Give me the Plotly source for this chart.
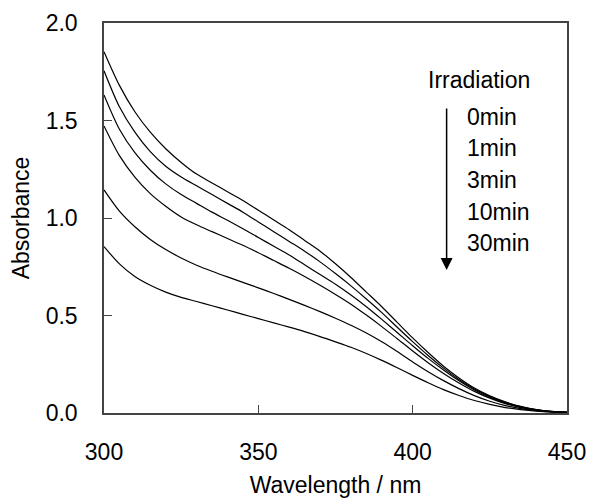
import plotly.graph_objects as go

wavelength = [300, 305, 310, 315, 320, 325, 330, 335, 340, 345, 350, 355, 360, 365, 370,
              375, 380, 385, 390, 395, 400, 405, 410, 415, 420, 425, 430, 435, 440, 445, 450]

abs_0 = [1.853, 1.68, 1.545, 1.44, 1.355, 1.285, 1.225, 1.18, 1.135, 1.09, 1.04, 0.99, 0.94, 0.885, 0.83,
         0.765, 0.695, 0.62, 0.545, 0.465, 0.385, 0.31, 0.24, 0.18, 0.128, 0.088, 0.057, 0.034, 0.018, 0.008, 0.004]
abs_1 = [1.755, 1.57, 1.44, 1.34, 1.265, 1.21, 1.165, 1.12, 1.075, 1.03, 0.98, 0.93, 0.88, 0.83, 0.775,
         0.715, 0.652, 0.585, 0.515, 0.44, 0.366, 0.295, 0.23, 0.172, 0.123, 0.085, 0.055, 0.032, 0.017, 0.008, 0.004]
abs_2 = [1.631, 1.455, 1.335, 1.245, 1.175, 1.12, 1.075, 1.03, 0.988, 0.945, 0.90, 0.855, 0.81, 0.76, 0.71,
         0.66, 0.605, 0.545, 0.48, 0.413, 0.345, 0.28, 0.22, 0.165, 0.118, 0.081, 0.052, 0.03, 0.016, 0.007, 0.003]
abs_3 = [1.472, 1.32, 1.21, 1.125, 1.06, 1.005, 0.965, 0.93, 0.895, 0.86, 0.822, 0.782, 0.742, 0.70, 0.655,
         0.608, 0.558, 0.502, 0.443, 0.381, 0.318, 0.258, 0.203, 0.154, 0.111, 0.076, 0.048, 0.028, 0.014, 0.007, 0.003]
abs_4 = [1.144, 1.035, 0.955, 0.89, 0.838, 0.795, 0.758, 0.727, 0.698, 0.67, 0.642, 0.613, 0.583, 0.552, 0.52,
         0.486, 0.45, 0.41, 0.365, 0.315, 0.262, 0.212, 0.166, 0.125, 0.089, 0.06, 0.038, 0.022, 0.012, 0.006, 0.003]
abs_5 = [0.853, 0.765, 0.70, 0.655, 0.62, 0.593, 0.572, 0.55, 0.528, 0.506, 0.484, 0.462, 0.44, 0.417, 0.392,
         0.365, 0.337, 0.305, 0.27, 0.232, 0.193, 0.155, 0.12, 0.09, 0.064, 0.044, 0.028, 0.017, 0.009, 0.004, 0.002]

series = [abs_0, abs_1, abs_2, abs_3, abs_4, abs_5]

legend_title = "Irradiation"
time_labels = ["0min", "1min", "3min", "10min", "30min"]

x_ticks = [300, 350, 400, 450]
y_ticks = [0.0, 0.5, 1.0, 1.5, 2.0]

FONT = "Liberation Sans, Arial, sans-serif"
FS = 23

fig = go.Figure()
for s in series:
    fig.add_trace(go.Scatter(x=wavelength, y=s, mode="lines",
                             line=dict(color="black", width=1.2, shape="spline", smoothing=0.8),
                             showlegend=False, hoverinfo="skip"))

# legend-like annotations
fig.add_annotation(x=421.5, y=1.708, xref="x", yref="y", text=legend_title, showarrow=False,
                   font=dict(size=FS, color="black", family=FONT), xanchor="center", yanchor="middle")
label_y = [1.518, 1.359, 1.195, 1.031, 0.872]
for lab, yy in zip(time_labels, label_y):
    fig.add_annotation(x=416.9, y=yy, xref="x", yref="y", text=lab, showarrow=False,
                       font=dict(size=FS, color="black", family=FONT), xanchor="left", yanchor="middle")
fig.add_annotation(x=411.0, y=0.733, ax=411.0, ay=1.569, xref="x", yref="y", axref="x", ayref="y",
                   text="", showarrow=True, arrowhead=2, arrowsize=1.6, arrowwidth=1.5, arrowcolor="black")

axis_common = dict(showline=True, linecolor="#444", linewidth=1.5, mirror=True, ticks="inside",
                   ticklen=8, tickwidth=1.2, tickcolor="#444", showgrid=False, zeroline=False,
                   automargin=False,
                   tickfont=dict(size=FS, color="black", family=FONT))

fig.update_xaxes(range=[300, 450], tickvals=x_ticks, ticktext=[str(v) for v in x_ticks],
                 ticklabelstandoff=18,
                 title=dict(text="Wavelength / nm", font=dict(size=FS, color="black", family=FONT), standoff=14),
                 **axis_common)
fig.update_yaxes(range=[0, 2.0], tickvals=y_ticks, ticktext=[f"{v:.1f}" for v in y_ticks],
                 ticklabelstandoff=20,
                 title=dict(text="Absorbance", font=dict(size=FS, color="black", family=FONT), standoff=10),
                 **axis_common)

fig.update_layout(width=589, height=498, margin=dict(l=104, r=22, t=23, b=85),
                  plot_bgcolor="white", paper_bgcolor="white", font=dict(family=FONT))

fig.write_html("out.html", config={"displayModeBar": False},
               post_script="document.body.style.margin='0';document.body.style.overflow='hidden';")
